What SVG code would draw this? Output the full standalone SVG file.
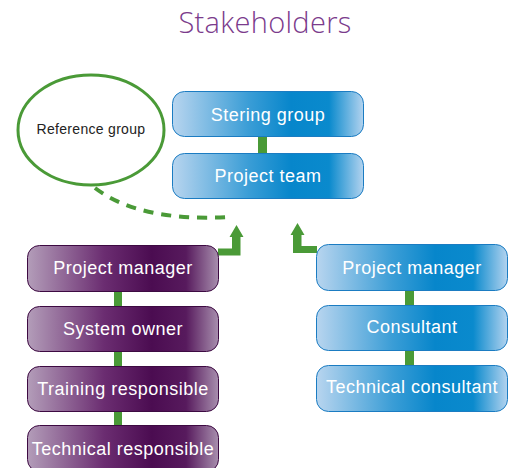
<svg xmlns="http://www.w3.org/2000/svg" width="516" height="468" viewBox="0 0 516 468">
  <defs>
    <linearGradient id="blueFill" x1="0" y1="0" x2="1" y2="0">
      <stop offset="0" stop-color="#b8d5ef"/>
      <stop offset="0.4" stop-color="#3a9dd6"/>
      <stop offset="0.62" stop-color="#0786cb"/>
      <stop offset="0.82" stop-color="#0a8acd"/>
      <stop offset="1" stop-color="#b3d3ef"/>
    </linearGradient>
    <linearGradient id="purpleFill" x1="0" y1="0" x2="1" y2="0">
      <stop offset="0" stop-color="#b39db9"/>
      <stop offset="0.4" stop-color="#6b2d71"/>
      <stop offset="0.65" stop-color="#4b0c51"/>
      <stop offset="0.83" stop-color="#571a5d"/>
      <stop offset="1" stop-color="#a88fae"/>
    </linearGradient>
    <style>
      .blue { fill: url(#blueFill); stroke: #1b7cc2; stroke-width: 1; }
      .purple { fill: url(#purpleFill); stroke: #3d0a42; stroke-width: 1; }
      .label { font-family: "Liberation Sans", Arial, sans-serif; font-size: 18px; letter-spacing: 0.5px; fill: #ffffff; text-anchor: middle; }
      .link { fill: #4a9a37; }
      .title { font-family: "Open Sans", "Liberation Sans", sans-serif; font-weight: 300; font-size: 29px; letter-spacing: 0.3px; fill: #7b3b8c; text-anchor: middle; }
    </style>
  </defs>

  <text class="title" x="265" y="33">Stakeholders</text>

  <!-- connectors -->
  <g id="connectors">
    <!-- vertical links between stacked boxes -->
    <rect class="link" x="258" y="136" width="9" height="18"/>
    <rect class="link" x="114" y="291" width="8" height="16"/>
    <rect class="link" x="114" y="351" width="8" height="16"/>
    <rect class="link" x="114" y="411" width="8" height="15"/>
    <rect class="link" x="405" y="290" width="9" height="16"/>
    <rect class="link" x="405" y="350" width="9" height="16"/>
    <!-- arrow from left project manager up to project team -->
    <path class="link" d="M218,248.5 H232 V237 H229.5 L236.5,225 L243.5,237 H240.5 V255.5 H218 Z"/>
    <!-- arrow from right project manager up to project team -->
    <path class="link" d="M317,246 H301.5 V235 H304.5 L297.5,223 L290.5,235 H293 V253 H317 Z"/>
    <!-- dashed link to the reference group -->
    <path d="M95,188 Q140,222 229,217" fill="none" stroke="#4a9a37" stroke-width="4" stroke-dasharray="10,8"/>
  </g>

  <g id="reference-group">
    <ellipse cx="91" cy="130" rx="73" ry="55" fill="#ffffff" stroke="#4a9a37" stroke-width="3"/>
    <text x="91" y="134" font-family="Liberation Sans, Arial, sans-serif" font-size="14" letter-spacing="0.3" fill="#222222" text-anchor="middle">Reference group</text>
  </g>

  <g id="stering-group">
    <rect class="blue" x="172.5" y="91.5" width="191" height="45" rx="12"/>
    <text class="label" x="268" y="121">Stering group</text>
  </g>
  <g id="project-team">
    <rect class="blue" x="172.5" y="153.5" width="191" height="45" rx="12"/>
    <text class="label" x="268" y="182">Project team</text>
  </g>

  <g id="client-project-manager">
    <rect class="purple" x="27.5" y="245.5" width="191" height="46" rx="12"/>
    <text class="label" x="123" y="274">Project manager</text>
  </g>
  <g id="system-owner">
    <rect class="purple" x="27.5" y="306.5" width="191" height="45" rx="12"/>
    <text class="label" x="123" y="335">System owner</text>
  </g>
  <g id="training-responsible">
    <rect class="purple" x="27.5" y="366.5" width="191" height="45" rx="12"/>
    <text class="label" x="123" y="395">Training responsible</text>
  </g>
  <g id="technical-responsible">
    <rect class="purple" x="27.5" y="425.5" width="191" height="46" rx="12"/>
    <text class="label" x="123" y="455">Technical responsible</text>
  </g>

  <g id="supplier-project-manager">
    <rect class="blue" x="316.5" y="244.5" width="191" height="46" rx="12"/>
    <text class="label" x="412" y="274">Project manager</text>
  </g>
  <g id="consultant">
    <rect class="blue" x="316.5" y="305.5" width="191" height="45" rx="12"/>
    <text class="label" x="412" y="333">Consultant</text>
  </g>
  <g id="technical-consultant">
    <rect class="blue" x="316.5" y="365.5" width="191" height="46" rx="12"/>
    <text class="label" x="412" y="393">Technical consultant</text>
  </g>
</svg>
